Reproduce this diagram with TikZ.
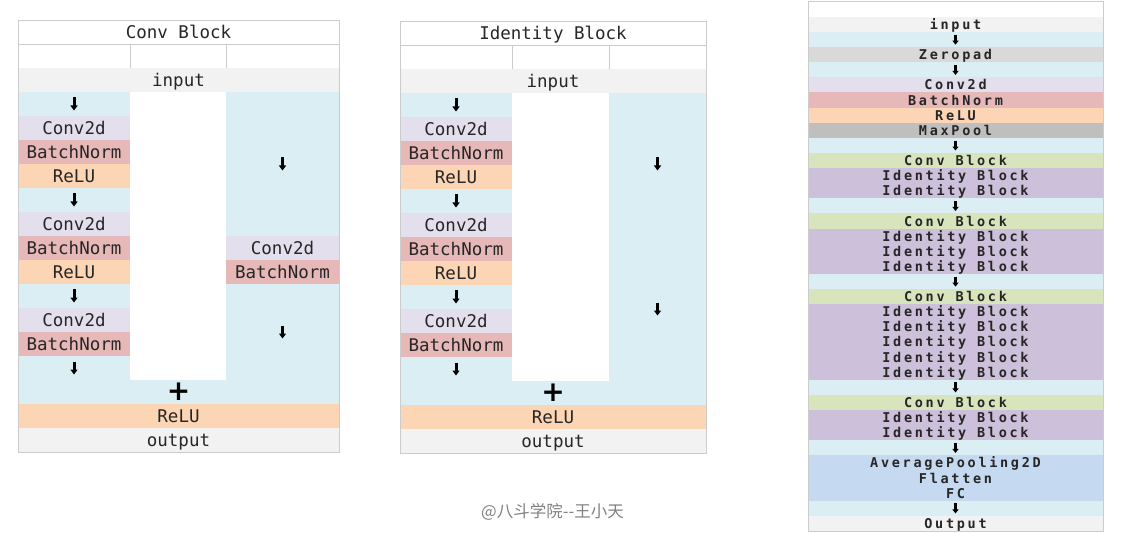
\documentclass[tikz,border=0pt]{standalone}
\usepackage{fontspec}
\usetikzlibrary{arrows.meta}
\newfontfamily\cellfont{DejaVu Sans Mono}
\newfontfamily\netfont[LetterSpace=20]{DejaVu Sans Mono}
\newfontfamily\plusfont{DejaVu Sans}
\newfontfamily\cjkfont{Noto Sans CJK SC}
\definecolor{inbg}{HTML}{F2F2F2}
\definecolor{flowbg}{HTML}{DAEEF3}
\definecolor{convbg}{HTML}{E4DFEC}
\definecolor{bnbg}{HTML}{E6B8B7}
\definecolor{relubg}{HTML}{FCD5B4}
\definecolor{padbg}{HTML}{D9D9D9}
\definecolor{poolbg}{HTML}{BFBFBF}
\definecolor{cblockbg}{HTML}{D8E4BC}
\definecolor{iblockbg}{HTML}{CCC0DA}
\definecolor{headbg}{HTML}{C5D9F1}
\definecolor{gridline}{HTML}{CCCCCC}
\tikzset{
  cellbox/.style={rectangle, inner sep=0pt, outer sep=0pt, minimum height=24.4pt,
    text height=14pt, text depth=1.5pt,
    font=\cellfont\fontsize{17.5}{20}\selectfont, text=black!85},
  netbox/.style={rectangle, inner sep=0pt, outer sep=0pt, minimum width=295pt, minimum height=15.4pt,
    text height=10.5pt, text depth=0.7pt,
    font=\netfont\bfseries\fontsize{13.5}{15}\selectfont, text=black!85},
  plusbox/.style={inner sep=0pt, font=\plusfont\bfseries\fontsize{28}{28}\selectfont},
  gridrule/.style={draw=gridline, line width=0.8pt},
  downarrow/.pic={\draw[line width=3pt,-{Triangle[width=7pt,length=5pt]}] (0,-6.5) -- (0,6.5);},
  smalldown/.pic={\draw[line width=2.4pt,-{Triangle[width=6pt,length=4pt]}] (0,-5) -- (0,5);}
}
\begin{document}
\begin{tikzpicture}[x=1pt,y=-1pt]
          \useasboundingbox (0,0) rectangle (1131,534);
          \fill[flowbg] (18,92) rectangle (130,404);
          \fill[flowbg] (226,92) rectangle (339,404);
          \fill[flowbg] (130,380) rectangle (226,404);
          \node[cellbox, minimum width=321pt] (cbtitle) at (178.5,32) {Conv Block};
          \node[cellbox, fill=inbg, minimum width=321pt] (cbin) at (178.5,80) {input};
          \foreach \y/\c/\t in {104/flowbg/{}, 128/convbg/Conv2d, 152/bnbg/BatchNorm, 176/relubg/ReLU,
                                200/flowbg/{}, 224/convbg/Conv2d, 248/bnbg/BatchNorm, 272/relubg/ReLU,
                                296/flowbg/{}, 320/convbg/Conv2d, 344/bnbg/BatchNorm, 368/flowbg/{}}
            \node[cellbox, fill=\c, minimum width=112pt] (cbl\y) at (74,\y) {\t};
          \node[cellbox, fill=convbg, minimum width=113pt] (cbrconv) at (282.5,248) {Conv2d};
          \node[cellbox, fill=bnbg, minimum width=113pt] (cbrbn) at (282.5,272) {BatchNorm};
          \node[plusbox] (cbplus) at (178.5,392) {+};
          \node[cellbox, fill=relubg, minimum width=321pt] (cbrelu) at (178.5,416) {ReLU};
          \node[cellbox, fill=inbg, minimum width=321pt] (cbout) at (178.5,440) {output};
          \foreach \y in {104,200,296,368}
            \pic at (cbl\y) {downarrow};
          \pic at (282.5,164) {downarrow};
          \pic at (282.5,332) {downarrow};
          \draw[gridrule] (18,20) rectangle (339,452);
          \draw[gridrule] (18,44) -- (339,44);
          \draw[gridrule] (130,44) -- (130,68);
          \draw[gridrule] (226,44) -- (226,68);
          \fill[flowbg] (400,93) rectangle (512,405);
          \fill[flowbg] (609,93) rectangle (706,405);
          \fill[flowbg] (512,381) rectangle (609,405);
          \node[cellbox, minimum width=306pt] (ibtitle) at (553,33) {Identity Block};
          \node[cellbox, fill=inbg, minimum width=306pt] (ibin) at (553,81) {input};
          \foreach \y/\c/\t in {105/flowbg/{}, 129/convbg/Conv2d, 153/bnbg/BatchNorm, 177/relubg/ReLU,
                                201/flowbg/{}, 225/convbg/Conv2d, 249/bnbg/BatchNorm, 273/relubg/ReLU,
                                297/flowbg/{}, 321/convbg/Conv2d, 345/bnbg/BatchNorm, 369/flowbg/{}}
            \node[cellbox, fill=\c, minimum width=112pt] (ibl\y) at (456,\y) {\t};
          \node[plusbox] (ibplus) at (553,393) {+};
          \node[cellbox, fill=relubg, minimum width=306pt] (ibrelu) at (553,417) {ReLU};
          \node[cellbox, fill=inbg, minimum width=306pt] (ibout) at (553,441) {output};
          \foreach \y in {105,201,297,369}
            \pic at (ibl\y) {downarrow};
          \pic at (657.5,164) {downarrow};
          \pic at (657.5,309) {downarrow};
          \draw[gridrule] (400,21) rectangle (706,453);
          \draw[gridrule] (400,45) -- (706,45);
          \draw[gridrule] (512,45) -- (512,69);
          \draw[gridrule] (609,45) -- (609,69);
          \foreach \c/\t [count=\k from 0] in {inbg/input, flowbg/{}, padbg/Zeropad, flowbg/{},
                convbg/Conv2d, bnbg/BatchNorm, relubg/ReLU, poolbg/MaxPool, flowbg/{},
                cblockbg/Conv Block, iblockbg/Identity Block, iblockbg/Identity Block, flowbg/{},
                cblockbg/Conv Block, iblockbg/Identity Block, iblockbg/Identity Block, iblockbg/Identity Block, flowbg/{},
                cblockbg/Conv Block, iblockbg/Identity Block, iblockbg/Identity Block, iblockbg/Identity Block,
                iblockbg/Identity Block, iblockbg/Identity Block, flowbg/{},
                cblockbg/Conv Block, iblockbg/Identity Block, iblockbg/Identity Block, flowbg/{},
                headbg/AveragePooling2D, headbg/Flatten, headbg/FC, flowbg/{}, inbg/Output}
            \node[netbox, fill=\c] (net\k) at (955.5,{24.56+15.12*\k}) {\t};
          \foreach \k in {1,3,8,12,17,24,28,32}
            \pic at (net\k) {smalldown};
          \draw[gridrule] (808,1) rectangle (1103,531);
          \node[font=\cjkfont\fontsize{16.5}{18}\selectfont, text=black!50] (credit) at (552.5,512) {@八斗学院--王小天};
\end{tikzpicture}
\end{document}
